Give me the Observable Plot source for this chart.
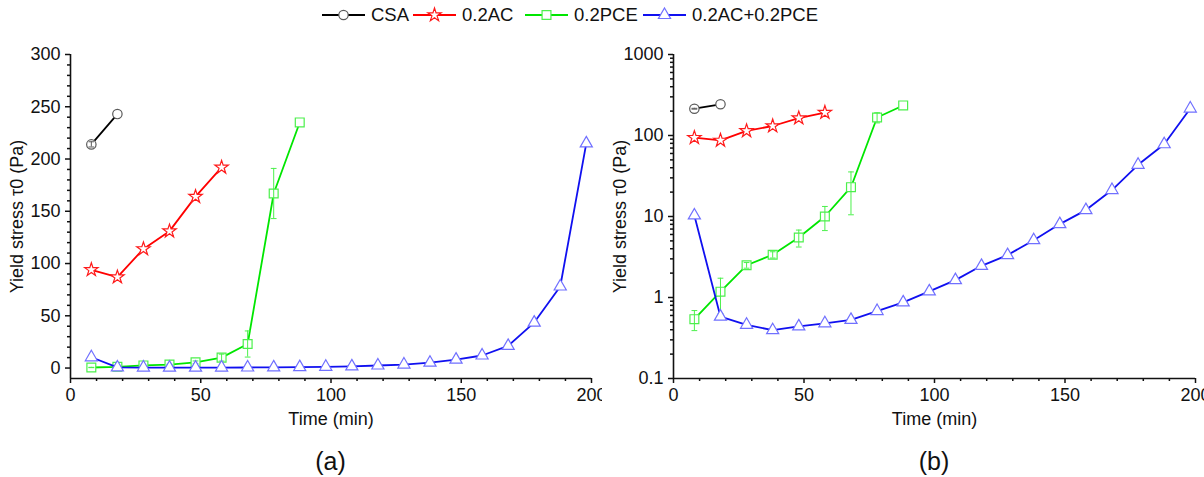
<!DOCTYPE html>
<html>
<head>
<meta charset="utf-8">
<script src="https://cdn.jsdelivr.net/npm/d3@7"></script>
<script src="https://cdn.jsdelivr.net/npm/@observablehq/plot@0.6"></script>
<style>
  html, body { margin: 0; padding: 0; background: #fff; width: 1204px; height: 477px; overflow: hidden; }
  body { font-family: "Liberation Sans", Arial, sans-serif; }
  #legend { display: block; }
  #row { display: flex; flex-direction: row; }
  .panel { width: 602px; position: relative; }
  .cap { position: absolute; top: 411px; font-size: 25px; line-height: 30px; text-align: center; color: #111; }
</style>
</head>
<body>
<svg id="legend" width="1204" height="35"></svg>
<div id="row">
  <div class="panel" id="pa"></div>
  <div class="panel" id="pb"></div>
</div>
<script>
// ---- data ----
const seriesNames = ["CSA", "0.2AC", "0.2PCE", "0.2AC+0.2PCE"];

const csaTime = [8, 18];
const csaStress = [214, 243];
const csaErr = [2.5, 0];

const acTime = [8, 18, 28, 38, 48, 58];
const acStress = [94, 87, 114, 131, 164, 192];
const acErr = [0, 0, 0, 0, 0, 0];

const pceTime = [8, 18, 28, 38, 48, 58, 68, 78, 88];
const pceStress = [0.54, 1.18, 2.5, 3.37, 5.5, 10, 23, 167, 235];
const pceErr = [0.15, 0.55, 0.2, 0.3, 1.3, 3.3, 12.5, 24, 0];

const mixTime = [8, 18, 28, 38, 48, 58, 68, 78, 88, 98, 108, 118, 128, 138, 148, 158, 168, 178, 188, 198];
const mixStress = [10.3, 0.58, 0.46, 0.395, 0.44, 0.48, 0.53, 0.68, 0.87, 1.19, 1.64, 2.46, 3.34, 5.1, 8.06, 12.0, 21.2, 43.5, 78, 215];
const mixErr = mixTime.map(() => 0);

const xTicks = [0, 50, 100, 150, 200];
const linTicks = [0, 50, 100, 150, 200, 250, 300];
const logTicks = [0.1, 1, 10, 100, 1000];

// ---- styles ----
const styles = [
  {line: "#000000", mark: "#5a5a5a", symbol: "circle", r: 4.7},
  {line: "#ff0000", mark: "#ff1a1a", symbol: "star", r: 4.2},
  {line: "#00e600", mark: "#4cf04c", symbol: "square", r: 5.0},
  {line: "#1010f0", mark: "#7070ff", symbol: "triangle", r: 4.5}
];

const raw = [
  [csaTime, csaStress, csaErr],
  [acTime, acStress, acErr],
  [pceTime, pceStress, pceErr],
  [mixTime, mixStress, mixErr]
];
const series = raw.map(([t, v, e], i) => ({
  name: seriesNames[i],
  rows: t.map((tt, j) => ({t: tt, v: v[j], e: e[j]})),
  ...styles[i]
}));

function panel(isLog) {
  const yDomain = isLog ? [0.1, 1000] : [-10, 300];
  const yMajor = isLog ? logTicks : linTicks;
  const yMinor = isLog
    ? [0.1, 1, 10, 100].flatMap(d => d3.range(2, 10).map(k => +(k * d).toPrecision(3)))
    : d3.range(10, 300, 10).filter(d => d % 50 !== 0);
  const xMinor = d3.range(10, 200, 10).filter(d => d % 50 !== 0);
  const marks = [];
  for (const s of series) {
    const errRows = s.rows.filter(d => d.e > 0);
    marks.push(Plot.line(s.rows, {x: "t", y: "v", stroke: s.line, strokeWidth: 1.8}));
    marks.push(Plot.dot(s.rows, {x: "t", y: "v", symbol: s.symbol, r: s.r, stroke: s.mark, fill: "white", strokeWidth: 1.2}));
    marks.push(Plot.ruleX(errRows, {x: "t", y1: d => d.v - d.e, y2: d => d.v + d.e, stroke: s.mark, strokeWidth: 1}));
    marks.push(Plot.link(errRows, {x1: d => d.t - 1.1, x2: d => d.t + 1.1, y1: d => d.v + d.e, y2: d => d.v + d.e, stroke: s.mark, strokeWidth: 1}));
    marks.push(Plot.link(errRows, {x1: d => d.t - 1.1, x2: d => d.t + 1.1, y1: d => d.v - d.e, y2: d => d.v - d.e, stroke: s.mark, strokeWidth: 1}));
  }
  return Plot.plot({
    width: 602,
    height: 400,
    marginTop: 19,
    marginBottom: 57,
    marginLeft: isLog ? 71 : 70,
    marginRight: isLog ? 9 : 11,
    style: {fontFamily: "Liberation Sans, Arial, sans-serif", fontSize: "18px", background: "white", overflow: "visible", color: "#111"},
    x: {domain: [0, 200]},
    y: isLog ? {type: "log", domain: yDomain} : {domain: yDomain},
    marks: [
      Plot.axisX(xTicks, {tickSize: 5, tickPadding: 5, tickFormat: d => String(d), label: "Time (min)", labelAnchor: "center", labelArrow: "none", labelOffset: 46, strokeWidth: 1.5}),
      Plot.axisX(xMinor, {tickSize: 3, tickFormat: () => "", label: null, strokeWidth: 1.5}),
      Plot.axisY(yMajor, {tickSize: 5, tickPadding: 5, tickFormat: d => String(d), label: "Yield stress τ0 (Pa)", labelAnchor: "center", labelArrow: "none", labelOffset: 60, strokeWidth: 1.5}),
      Plot.axisY(yMinor, {tickSize: 3, tickFormat: () => "", label: null, strokeWidth: 1.5}),
      Plot.ruleX([0], {stroke: "#111", strokeWidth: 1.6}),
      Plot.ruleY([yDomain[0]], {stroke: "#111", strokeWidth: 1.6}),
      ...marks
    ]
  });
}

function addPanel(id, isLog, cap) {
  const el = document.getElementById(id);
  el.appendChild(panel(isLog));
  const c = document.createElement("div");
  c.className = "cap";
  const left = isLog ? 71 : 70, right = isLog ? 593 : 591;
  c.style.left = left + "px";
  c.style.width = (right - left) + "px";
  c.textContent = cap;
  el.appendChild(c);
}
addPanel("pa", false, "(a)");
addPanel("pb", true, "(b)");

// ---- legend ----
const lg = d3.select("#legend");
const legendX = [322, 413, 525, 643];
series.forEach((s, i) => {
  const g = lg.append("g").attr("transform", `translate(${legendX[i]},15)`);
  g.append("line").attr("x1", 0).attr("x2", 43).attr("y1", 0).attr("y2", 0).attr("stroke", s.line).attr("stroke-width", 1.8);
  const sym = {circle: d3.symbolCircle, star: d3.symbolStar, square: d3.symbolSquare, triangle: d3.symbolTriangle}[s.symbol];
  g.append("path").attr("transform", "translate(21.5,0)")
    .attr("d", d3.symbol(sym, Math.PI * s.r * s.r)())
    .attr("fill", "white").attr("stroke", s.mark).attr("stroke-width", 1.2);
  g.append("text").attr("x", 49).attr("y", 0).attr("dy", "0.35em")
    .attr("font-size", 18.5).attr("fill", "#111")
    .attr("font-family", "Liberation Sans, Arial, sans-serif")
    .text(s.name);
});
</script>
</body>
</html>
